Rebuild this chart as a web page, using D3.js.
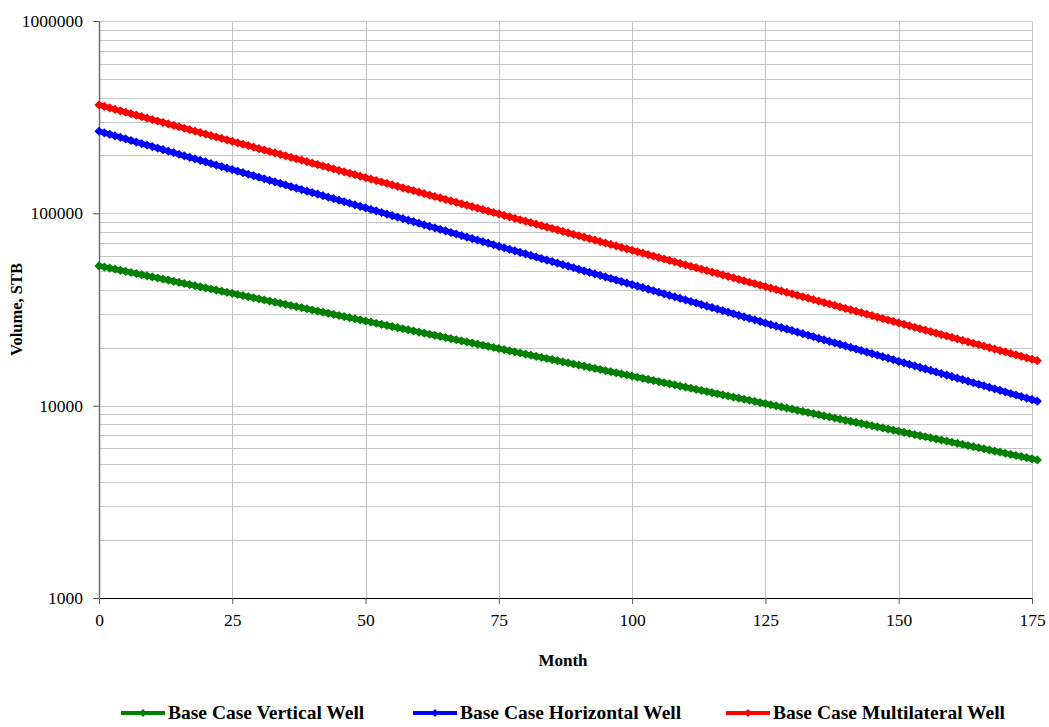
<!DOCTYPE html>
<html>
<head>
<meta charset="utf-8">
<script src="https://cdn.jsdelivr.net/npm/d3@7"></script>
<style>
  body { margin: 0; background: #fff; }
  #chart { width: 1049px; height: 727px; }
  text { font-family: "Liberation Serif", "Times New Roman", serif; fill: #000; }
</style>
</head>
<body>
<div id="chart"></div>
<script>
// monthly values (STB), month 0..176
const verticalWell = [
  53300, 52600, 51910, 51230, 50560, 49900, 49250, 48600, 47960, 47330,
  46720, 46110, 45510, 44910, 44320, 43740, 43170, 42600, 42040, 41490,
  40960, 40420, 39890, 39370, 38850, 38340, 37840, 37340, 36850, 36370,
  35910, 35440, 34980, 34520, 34070, 33620, 33180, 32750, 32320, 31900,
  31440, 31030, 30620, 30220, 29820, 29430, 29040, 28660, 28280, 27910,
  27550, 27190, 26830, 26480, 26130, 25790, 25450, 25120, 24790, 24470,
  24140, 23820, 23510, 23200, 22900, 22600, 22300, 22010, 21720, 21440,
  21160, 20880, 20610, 20340, 20070, 19810, 19550, 19290, 19040, 18790,
  18540, 18300, 18060, 17820, 17590, 17360, 17130, 16910, 16690, 16470,
  16250, 16040, 15830, 15620, 15420, 15220, 15020, 14820, 14630, 14440,
  14240, 14050, 13870, 13690, 13510, 13330, 13160, 12990, 12820, 12650,
  12480, 12320, 12160, 12000, 11840, 11680, 11530, 11380, 11230, 11080,
  10940, 10800, 10660, 10520, 10380, 10240, 10110, 9978, 9847, 9718,
  9585, 9459, 9335, 9213, 9092, 8973, 8855, 8739, 8624, 8511,
  8399, 8289, 8180, 8073, 7967, 7863, 7760, 7658, 7558, 7459,
  7361, 7265, 7170, 7076, 6983, 6892, 6802, 6713, 6625, 6538,
  6452, 6367, 6284, 6202, 6121, 6041, 5962, 5884, 5807, 5731,
  5653, 5579, 5506, 5434, 5363, 5293, 5224
];
const horizontalWell = [
  267100, 262200, 257400, 252700, 248100, 243600, 239200, 234800, 230500, 226300,
  222300, 218300, 214300, 210400, 206600, 202800, 199100, 195500, 191900, 188400,
  185000, 181600, 178300, 175100, 171900, 168800, 165700, 162700, 159700, 156800,
  154000, 151200, 148400, 145700, 143000, 140400, 137800, 135300, 132800, 130400,
  128200, 125900, 123600, 121400, 119200, 117000, 114900, 112800, 110700, 108700,
  106700, 104800, 102900, 101000, 99160, 97360, 95590, 93850, 92140, 90460,
  88780, 87170, 85580, 84020, 82490, 80990, 79520, 78070, 76650, 75260,
  73890, 72550, 71230, 69930, 68660, 67410, 66180, 64980, 63800, 62640,
  61500, 60380, 59280, 58200, 57140, 56100, 55080, 54080, 53100, 52130,
  51180, 50250, 49340, 48440, 47560, 46690, 45840, 45010, 44190, 43390,
  42600, 41830, 41070, 40320, 39590, 38870, 38160, 37470, 36790, 36120,
  35450, 34810, 34180, 33560, 32950, 32350, 31760, 31180, 30610, 30050,
  29500, 28960, 28430, 27910, 27400, 26900, 26410, 25930, 25460, 25000,
  24560, 24110, 23670, 23240, 22820, 22400, 21990, 21590, 21200, 20810,
  20450, 20080, 19710, 19350, 19000, 18650, 18310, 17980, 17650, 17330,
  17010, 16700, 16400, 16100, 15810, 15520, 15240, 14960, 14690, 14420,
  14160, 13900, 13650, 13400, 13160, 12920, 12690, 12460, 12230, 12010,
  11780, 11570, 11360, 11150, 10950, 10750, 10550
];
const multilateralWell = [
  365800, 359500, 353300, 347200, 341200, 335300, 329500, 323800, 318200, 312700,
  307400, 302100, 296900, 291800, 286800, 281900, 277000, 272200, 267500, 262900,
  258300, 253800, 249400, 245100, 240900, 236700, 232600, 228600, 224700, 220800,
  217100, 213400, 209700, 206100, 202500, 199000, 195600, 192200, 188900, 185600,
  182400, 179300, 176200, 173200, 170200, 167300, 164400, 161600, 158800, 156100,
  153300, 150700, 148100, 145500, 143000, 140500, 138100, 135700, 133400, 131100,
  128800, 126580, 124400, 122300, 120200, 118100, 116100, 114100, 112100, 110200,
  108300, 106400, 104600, 102800, 101000, 99260, 97550, 95870, 94220, 92600,
  91000, 89430, 87890, 86370, 84880, 83420, 81980, 80570, 79180, 77810,
  76470, 75150, 73850, 72580, 71330, 70100, 68890, 67700, 66530, 65380,
  64260, 63150, 62060, 60990, 59940, 58910, 57890, 56890, 55910, 54950,
  54000, 53070, 52160, 51260, 50380, 49510, 48660, 47820, 47000, 46190,
  45380, 44600, 43830, 43070, 42330, 41600, 40880, 40180, 39490, 38810,
  38140, 37480, 36830, 36200, 35580, 34970, 34370, 33780, 33200, 32630,
  32050, 31500, 30960, 30430, 29910, 29390, 28880, 28380, 27890, 27410,
  26930, 26470, 26010, 25560, 25120, 24690, 24260, 23840, 23430, 23030,
  22630, 22240, 21860, 21480, 21110, 20750, 20390, 20040, 19690, 19350,
  19020, 18690, 18370, 18050, 17740, 17430, 17130
];
const seriesNames = ["Base Case Vertical Well", "Base Case Horizontal Well", "Base Case Multilateral Well"];
const seriesColors = ["#008000", "#0000ff", "#ff0000"];
const xTicks = [0, 25, 50, 75, 100, 125, 150, 175];
const yTicks = [1000, 10000, 100000, 1000000];

const width = 1049, height = 727;
const margin = { top: 21, right: 17, bottom: 129, left: 99 };
const plotW = width - margin.left - margin.right;
const plotH = height - margin.top - margin.bottom;

const svg = d3.select("#chart")
  .append("svg")
  .attr("width", width)
  .attr("height", height);

const g = svg.append("g")
  .attr("transform", `translate(${margin.left},${margin.top})`);

const x = d3.scaleLinear().domain([0, 175]).range([0, plotW]);
const y = d3.scaleLog().domain([1000, 1000000]).range([plotH, 0]);

// gridlines: every minor log step, and x every 25
const minorY = y.ticks().filter(v => v > 1000);
g.append("g")
  .selectAll("line")
  .data(minorY)
  .join("line")
  .attr("x1", 0).attr("x2", plotW)
  .attr("y1", d => Math.round(y(d)) + 0.5).attr("y2", d => Math.round(y(d)) + 0.5)
  .attr("stroke", "#c4c4c4")
  .attr("stroke-width", 1);

g.append("g")
  .selectAll("line")
  .data(xTicks.slice(1))
  .join("line")
  .attr("x1", d => Math.round(x(d)) + 0.5).attr("x2", d => Math.round(x(d)) + 0.5)
  .attr("y1", 0).attr("y2", plotH)
  .attr("stroke", "#c4c4c4")
  .attr("stroke-width", 1);

// axes
const xAxis = g.append("g")
  .attr("transform", `translate(0,${plotH})`)
  .call(d3.axisBottom(x).tickValues(xTicks).tickSize(6).tickPadding(10).tickSizeOuter(0));
xAxis.select(".domain").attr("stroke", "#000");
xAxis.selectAll(".tick line").attr("stroke", "#555");
xAxis.selectAll("text").style("font-size", "17.5px");

const yAxis = g.append("g")
  .call(d3.axisLeft(y).tickValues(yTicks).tickFormat(d3.format("d")).tickSize(6).tickPadding(10).tickSizeOuter(0));
yAxis.select(".domain").attr("stroke", "#6e6e6e").attr("stroke-width", 1.5);
yAxis.selectAll(".tick line").attr("stroke", "#555");
yAxis.selectAll("text").style("font-size", "17.5px");

// axis titles
svg.append("text")
  .attr("transform", `translate(22,${margin.top + plotH / 2}) rotate(-90)`)
  .attr("text-anchor", "middle")
  .style("font-size", "16.5px")
  .style("font-weight", "bold")
  .text("Volume, STB");

svg.append("text")
  .attr("x", 563)
  .attr("y", 666)
  .attr("text-anchor", "middle")
  .style("font-size", "17px")
  .style("font-weight", "bold")
  .text("Month");

// series
const allSeries = [verticalWell, horizontalWell, multilateralWell];
const line = d3.line()
  .x((d, i) => x(i))
  .y(d => y(d));
const diamond = r => `M0,${-r}L${r},0L0,${r}L${-r},0Z`;

allSeries.forEach((values, k) => {
  const s = g.append("g");
  s.append("path")
    .datum(values)
    .attr("d", line)
    .attr("fill", "none")
    .attr("stroke", seriesColors[k])
    .attr("stroke-width", 5.5);
  s.selectAll("path.pt")
    .data(values)
    .join("path")
    .attr("class", "pt")
    .attr("transform", (d, i) => `translate(${x(i)},${y(d)})`)
    .attr("d", diamond(4.6))
    .attr("fill", seriesColors[k]);
});

// legend
const legendX = [121, 413, 726];
const legend = svg.append("g").attr("transform", "translate(0,713)");
seriesNames.forEach((name, k) => {
  const item = legend.append("g").attr("transform", `translate(${legendX[k]},0)`);
  item.append("line")
    .attr("x1", 0).attr("x2", 44)
    .attr("y1", 0).attr("y2", 0)
    .attr("stroke", seriesColors[k])
    .attr("stroke-width", 4);
  item.append("path")
    .attr("transform", "translate(22,0)")
    .attr("d", diamond(4))
    .attr("fill", seriesColors[k]);
  item.append("text")
    .attr("x", 47)
    .attr("y", 6)
    .style("font-size", "19.5px")
    .style("font-weight", "bold")
    .text(name);
});
</script>
</body>
</html>
